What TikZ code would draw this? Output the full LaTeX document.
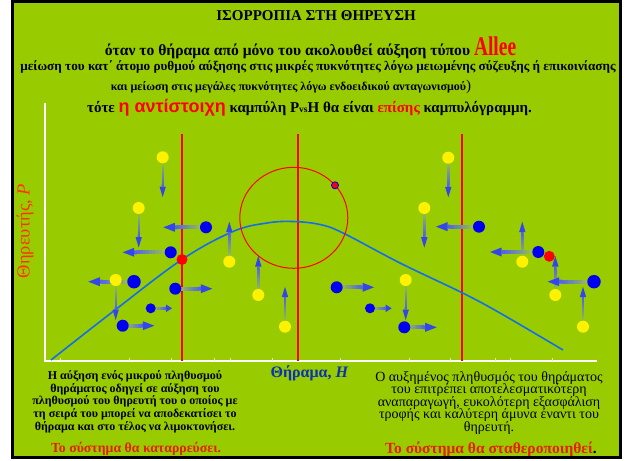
\documentclass[tikz,border=0pt]{standalone}
\usepackage{fontspec}
\setmainfont{Liberation Serif}
\newfontfamily\sansgr{Liberation Sans}
\usetikzlibrary{calc}
\definecolor{bggreen}{RGB}{153,204,0}
\definecolor{arrowblue}{RGB}{50,70,235}
\definecolor{curveblue}{RGB}{20,110,235}
\definecolor{dotblue}{RGB}{0,0,240}
\definecolor{labred}{RGB}{255,51,0}
\definecolor{txtred}{RGB}{230,30,0}
\definecolor{xlabblue}{RGB}{10,50,180}
\newcommand{\gradarrow}[5]{%
  \coordinate (ga-base) at ($(#2)!#4!(#1)$);
  \foreach \k in {0,...,11}{%
    \pgfmathsetmacro{\ta}{\k/12}%
    \pgfmathsetmacro{\tb}{min(1,(\k+1.1)/12)}%
    \pgfmathtruncatemacro{\pc}{5+8.6*\k}%
    \draw[line width=#3, draw=arrowblue!\pc!bggreen!85!white] ($(#1)!\ta!(ga-base)$) -- ($(#1)!\tb!(ga-base)$);
  }%
  \fill[arrowblue] ($(ga-base)!#5!90:(#2)$) -- (#2) -- ($(ga-base)!#5!-90:(#2)$) -- cycle;
}
\tikzset{
  ydot/.style={circle, fill=yellow, inner sep=0pt, minimum size=12pt},
  bdot/.style={circle, fill=dotblue, inner sep=0pt, minimum size=12pt},
  rdot/.style={circle, fill=red, inner sep=0pt, minimum size=11pt},
  hd/.style={anchor=base, inner sep=0pt, font=\bfseries},
  para/.style={anchor=base, inner sep=0pt},
}
\begin{document}
\begin{tikzpicture}[x=1pt,y=-1pt]
\useasboundingbox (0,0) rectangle (625,461);
\fill[white] (0,0) rectangle (625,461);
\fill[bggreen] (12.2,1.2) rectangle (620.5,457.6);

% axes
\draw[white, line width=1.5pt] (45,103) -- (45,361) -- (597,361);
\foreach \tx in {60,129.3,171,214.3,230,272.7,340,409.3,450,495,510,552.3}
  \draw[white!70!bggreen, line width=0.8pt] (\tx,361) -- (\tx,358);

% vertical red lines
\draw[red, line width=1.8pt] (182,134) -- (182,361);
\draw[red, line width=1.8pt] (297.7,134) -- (297.7,361);
\draw[red, line width=1.8pt] (461.7,134) -- (461.7,361);

% curve
\draw[curveblue, line width=1.6pt] plot[smooth, tension=0.6] coordinates {
 (51,360) (115,310) (182,259.5) (233,231.5) (267,223) (293,221.5) (320,224.5)
 (343,233) (400,263) (462,292.7) (500,313) (563,350)};

% circle
\draw[red, line width=1pt] (293.8,217.8) ellipse [x radius=54, y radius=50.5];

% dot positions
\coordinate (Y1) at (162.7,157.3); \coordinate (Y1e) at (162.7,197);
\coordinate (Y2) at (138.7,208);   \coordinate (Y2e) at (138.7,247.5);
\coordinate (Y3) at (115.7,280);   \coordinate (Y3e) at (115.7,320);
\coordinate (Y4) at (229.3,261.7); \coordinate (Y4e) at (229.3,221.7);
\coordinate (Y5) at (258.3,295);   \coordinate (Y5e) at (258.3,256);
\coordinate (Y6) at (285,326.7);   \coordinate (Y6e) at (285,286.7);
\coordinate (Y7) at (448.3,157.7); \coordinate (Y7e) at (448.3,197.3);
\coordinate (Y8) at (424.3,208);   \coordinate (Y8e) at (424.3,247.7);
\coordinate (Y9) at (405.7,280);   \coordinate (Y9e) at (405.7,320);
\coordinate (Y10) at (522.3,261.7); \coordinate (Y10e) at (522.3,221.7);
\coordinate (Y11) at (555.3,295);   \coordinate (Y11e) at (555.3,256);
\coordinate (Y12) at (583,326.7);   \coordinate (Y12e) at (583,286.7);

\coordinate (B1) at (206,227.3);   \coordinate (B1e) at (163.3,227.3);
\coordinate (B2) at (170.7,252.3); \coordinate (B2e) at (122.7,252.3);
\coordinate (B3) at (134,281.7);   \coordinate (B3e) at (88.3,281.7);
\coordinate (B4) at (175.3,288.7); \coordinate (B4e) at (212.3,288.7);
\coordinate (B5) at (150.7,308.3); \coordinate (B5e) at (172,308.3);
\coordinate (B6) at (122.7,325.7); \coordinate (B6e) at (154.3,325.7);
\coordinate (B7) at (479,226.7);   \coordinate (B7e) at (436,226.7);
\coordinate (B8) at (538.3,252);   \coordinate (B8e) at (490,252);
\coordinate (B9) at (594,281.7);   \coordinate (B9e) at (547.7,281.7);
\coordinate (B10) at (336.7,287.3); \coordinate (B10e) at (374,287.3);
\coordinate (B11) at (370,308.3);   \coordinate (B11e) at (391.7,308.3);
\coordinate (B12) at (404.3,327.3); \coordinate (B12e) at (436.7,327.3);

% arrows
\foreach \n in {1,...,12}{\gradarrow{Y\n}{Y\n e}{2.4pt}{10.5pt}{3.2pt}}
\foreach \n in {1,2,3,4,6,7,8,9,10,12}{\gradarrow{B\n}{B\n e}{4pt}{11.5pt}{4.5pt}}
\gradarrow{B5}{B5e}{3.6pt}{6pt}{3.8pt}
\gradarrow{B11}{B11e}{3.6pt}{6pt}{3.8pt}

% dots
\foreach \n in {1,...,12}{\node[ydot] (Yd\n) at (Y\n) {};}
\foreach \n in {1,2,4,6,7,8,10,12}{\node[bdot] (Bd\n) at (B\n) {};}
\node[bdot, minimum size=13.5pt] (Bd3) at (B3) {};
\node[bdot, minimum size=13.5pt] (Bd9) at (B9) {};
\node[bdot, minimum size=10pt] (Bd5) at (B5) {};
\node[bdot, minimum size=10pt] (Bd11) at (B11) {};
\node[rdot] (R1) at (182,259.5) {};
\node[rdot] (R2) at (549.3,256.3) {};
\node[circle, fill=red, draw=dotblue, line width=0.9pt, inner sep=0pt, minimum size=7pt] (R3) at (335,185.3) {};

% axis labels
\node[rotate=90, inner sep=0pt, text=labred, font=\fontsize{18.5}{18.5}\selectfont] (ylab) at (25,231) {Θηρευτής, \textit{P}};
\node[anchor=base, inner sep=0pt, text=xlabblue, font=\fontsize{16}{16}\selectfont\bfseries] (xlab) at (309.5,377) {Θήραμα, \textit{Η}};

% header
\node[hd, font=\fontsize{15}{15}\selectfont\bfseries] (t1) at (316,20) {ΙΣΟΡΡΟΠΙΑ ΣΤΗ ΘΗΡΕΥΣΗ};
\node[hd, font=\fontsize{15.6}{16}\selectfont\bfseries] (t2) at (310.5,55.8) {όταν το θήραμα από μόνο του ακολουθεί αύξηση τύπου \textcolor{red}{\scalebox{0.72}[1]{\fontsize{27}{27}\selectfont Allee}}};
\begin{scope}
\clip (13.5,2.5) rectangle (619.2,456);
\node[hd, font=\fontsize{13.2}{14}\selectfont\bfseries] (t3) at (318,70.2) {μείωση του κατ΄ άτομο ρυθμού αύξησης στις μικρές πυκνότητες λόγω μειωμένης σύζευξης ή επικοινίασης};
\end{scope}
\node[hd, font=\fontsize{12}{13}\selectfont\bfseries] (t4) at (291,90.8) {και μείωση στις μεγάλες πυκνότητες λόγω ενδοειδικού ανταγωνισμού{\mdseries\fontsize{15}{15}\selectfont)}};
\node[hd, font=\fontsize{15}{16}\selectfont\bfseries] (t5) at (309.5,112.5) {τότε \textcolor{red}{\sansgr\fontsize{18}{18}\selectfont η αντίστοιχη} καμπύλη P{\fontsize{9.5}{9.5}\selectfont vs}H θα είναι \textcolor{red}{επίσης} καμπυλόγραμμη.};

% bottom left paragraph
\node[para, font=\fontsize{12}{13}\selectfont\bfseries] (a1) at (135,379.5) {Η αύξηση ενός μικρού πληθυσμού};
\node[para, font=\fontsize{12}{13}\selectfont\bfseries] (a2) at (135,392.2) {θηράματος οδηγεί σε αύξηση του};
\node[para, font=\fontsize{12}{13}\selectfont\bfseries] (a3) at (135,404.9) {πληθυσμού του θηρευτή του ο οποίος με};
\node[para, font=\fontsize{12}{13}\selectfont\bfseries] (a4) at (135,417.6) {τη σειρά του μπορεί να αποδεκατίσει το};
\node[para, font=\fontsize{12}{13}\selectfont\bfseries] (a5) at (135,430.3) {θήραμα και στο τέλος να λιμοκτονήσει.};
\node[para, text=txtred, font=\fontsize{13.8}{14}\selectfont\bfseries] (a6) at (136,452.5) {Το σύστημα θα καταρρεύσει.};

% bottom right paragraph
\node[para, font=\fontsize{14}{14}\selectfont] (b1) at (489,381) {Ο αυξημένος πληθυσμός του θηράματος};
\node[para, font=\fontsize{14}{14}\selectfont] (b2) at (489,393.5) {του επιτρέπει αποτελεσματικότερη};
\node[para, font=\fontsize{14}{14}\selectfont] (b3) at (489,406) {αναπαραγωγή, ευκολότερη εξασφάλιση};
\node[para, font=\fontsize{14}{14}\selectfont] (b4) at (489,418.5) {τροφής και καλύτερη άμυνα έναντι του};
\node[para, font=\fontsize{14}{14}\selectfont] (b5) at (489,431) {θηρευτή.};
\node[para, font=\fontsize{15.5}{16}\selectfont\bfseries] (b6) at (491,453.5) {\textcolor{txtred}{Το σύστημα θα σταθεροποιηθεί}.};

% frame
\draw[black, line width=2.6pt] (12.2,1.2) rectangle (620.5,457.6);
\end{tikzpicture}
\end{document}
